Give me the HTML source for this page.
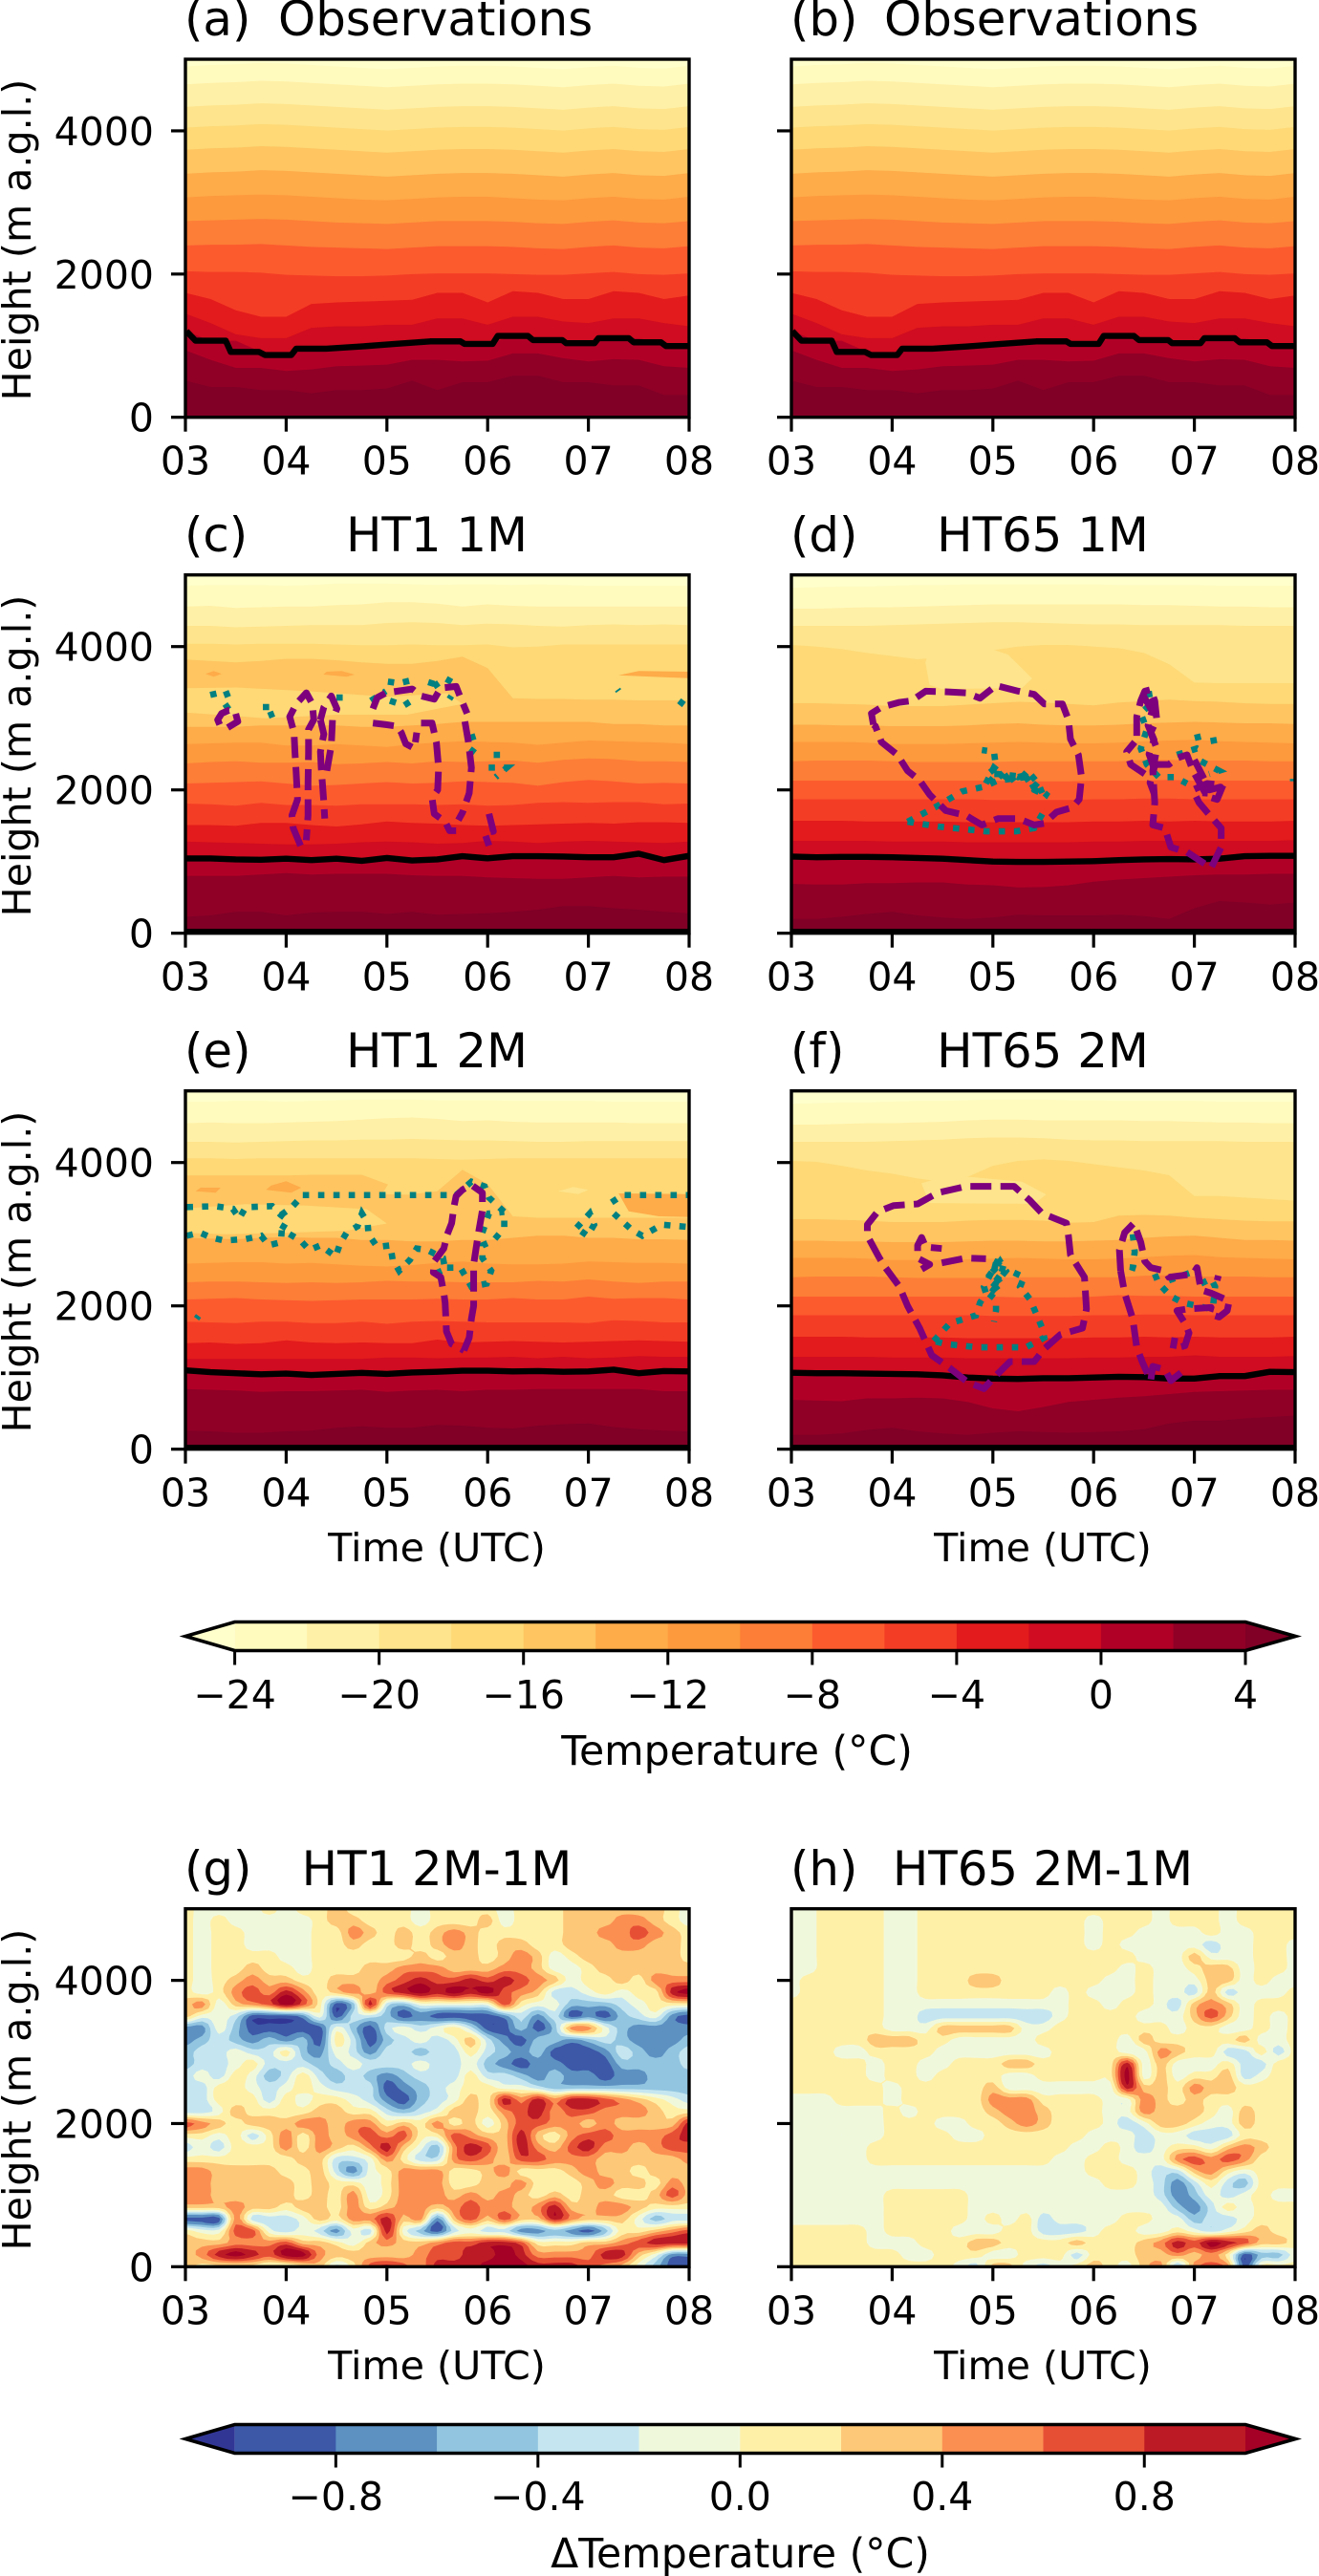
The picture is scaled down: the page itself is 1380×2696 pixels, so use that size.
<!DOCTYPE html>
<html lang="en">
<head>
<meta charset="utf-8">
<title>Temperature time-height panels</title>
<style>
html,body{margin:0;padding:0;background:#fff}
svg{display:block}
text{font-family:"DejaVu Sans","Liberation Sans",sans-serif;fill:#000}
.ttl{font-size:49.8px}
.lab{font-size:41.2px;text-anchor:middle}
.cbl{font-size:42.6px;text-anchor:middle}
.tk{font-size:41px}
</style>
</head>
<body>
<svg id="figure" xmlns="http://www.w3.org/2000/svg" width="1380" height="2696" viewBox="0 0 1380 2696">
<rect x="0" y="0" width="1380" height="2696" fill="#fff"/>
<g id="p-a">
<text class="ttl" x="193" y="37">(a)</text>
<text class="ttl" x="291" y="37">Observations</text>
<text class="lab" transform="translate(32,251) rotate(-90)">Height (m a.g.l.)</text>
</g>
<g id="p-b">
<text class="ttl" x="827" y="37">(b)</text>
<text class="ttl" x="925" y="37">Observations</text>
</g>
<g id="p-c">
<text class="ttl" x="193" y="577">(c)</text>
<text class="ttl" x="457" y="577" text-anchor="middle">HT1 1M</text>
<text class="lab" transform="translate(32,791) rotate(-90)">Height (m a.g.l.)</text>
</g>
<g id="p-d">
<text class="ttl" x="827" y="577">(d)</text>
<text class="ttl" x="1091" y="577" text-anchor="middle">HT65 1M</text>
</g>
<g id="p-e">
<text class="ttl" x="193" y="1117">(e)</text>
<text class="ttl" x="457" y="1117" text-anchor="middle">HT1 2M</text>
<text class="lab" transform="translate(32,1331) rotate(-90)">Height (m a.g.l.)</text>
<text class="lab" x="457" y="1634">Time (UTC)</text>
</g>
<g id="p-f">
<text class="ttl" x="827" y="1117">(f)</text>
<text class="ttl" x="1091" y="1117" text-anchor="middle">HT65 2M</text>
<text class="lab" x="1091" y="1634">Time (UTC)</text>
</g>
<g id="cb-t">
<text class="cbl" x="771" y="1847">Temperature (°C)</text>
</g>
<g id="p-g">
<text class="ttl" x="193" y="1973">(g)</text>
<text class="ttl" x="457" y="1973" text-anchor="middle">HT1 2M-1M</text>
<text class="lab" transform="translate(32,2187) rotate(-90)">Height (m a.g.l.)</text>
<text class="lab" x="457" y="2490">Time (UTC)</text>
</g>
<g id="p-h">
<text class="ttl" x="827" y="1973">(h)</text>
<text class="ttl" x="1091" y="1973" text-anchor="middle">HT65 2M-1M</text>
<text class="lab" x="1091" y="2490">Time (UTC)</text>
</g>
<g id="cb-d">
<text class="cbl" x="774.5" y="2687">ΔTemperature (°C)</text>
</g>
</svg>
<script>
/* ---------- axis categories and ticks ---------- */
const hourTicks = [3, 4, 5, 6, 7, 8];
const hourLabels = ['03', '04', '05', '06', '07', '08'];
const heightTicks = [0, 2000, 4000];
const tempTicks = [-24, -20, -16, -12, -8, -4, 0, 4];
const tempTickLabels = ['\u221224', '\u221220', '\u221216', '\u221212', '\u22128', '\u22124', '0', '4'];
const deltaTicks = [-0.8, -0.4, 0, 0.4, 0.8];
const deltaTickLabels = ['\u22120.8', '\u22120.4', '0.0', '0.4', '0.8'];

/* ---------- temperature levels (degC) and isotherm sample times (h UTC) ---------- */
const tempLevels = [-24, -22, -20, -18, -16, -14, -12, -10, -8, -6, -4, -2, 0, 2, 4];
const isoTimes = [3, 3.25, 3.5, 3.75, 4, 4.25, 4.5, 4.75, 5, 5.25, 5.5, 5.75, 6, 6.25, 6.5, 6.75, 7, 7.25, 7.5, 7.75, 8];
const tempColors = ['#ffffcc', '#fffbbf', '#fff0a7', '#fee48c', '#fed976', '#fec561', '#feab49', '#fd9a3d', '#fd7e37', '#fc5b2e', '#f43d25', '#e31b1c', '#cf0c21', '#b10026', '#900026', '#800026'];

/* isotherm heights (m) — one row per level in tempLevels, one column per isoTimes */
const isoObs = [
[4900,4920,4930,4950,4940,4920,4900,4880,4860,4880,4900,4910,4910,4900,4880,4860,4890,4910,4880,4870,4910],
[4650,4670,4680,4700,4690,4670,4650,4630,4610,4630,4650,4660,4660,4650,4630,4610,4640,4660,4630,4620,4660],
[4335,4355,4365,4385,4375,4355,4335,4315,4295,4315,4335,4345,4345,4335,4315,4295,4325,4345,4315,4305,4345],
[4045,4065,4075,4095,4085,4065,4045,4025,4005,4025,4045,4055,4055,4045,4025,4005,4035,4055,4025,4015,4055],
[3735,3755,3765,3785,3775,3755,3735,3715,3695,3715,3735,3745,3745,3735,3715,3695,3725,3745,3715,3705,3745],
[3400,3420,3430,3450,3440,3420,3400,3380,3360,3380,3400,3410,3410,3400,3380,3360,3390,3410,3380,3370,3410],
[3070,3090,3100,3110,3100,3080,3060,3040,3030,3050,3070,3080,3080,3060,3040,3030,3060,3080,3050,3040,3080],
[2740,2750,2760,2770,2760,2740,2720,2710,2700,2720,2740,2740,2740,2730,2710,2700,2730,2750,2720,2710,2740],
[2400,2410,2410,2420,2400,2380,2370,2360,2350,2370,2390,2390,2390,2380,2360,2350,2380,2400,2370,2360,2390],
[2040,2030,2030,2020,1990,1980,1970,1970,1980,2000,2010,2010,2010,2000,1990,1990,2010,2030,2000,1990,2010],
[1738,1650,1493,1404,1404,1582,1604,1615,1627,1640,1738,1738,1604,1760,1738,1650,1650,1760,1738,1650,1700],
[1448,1315,1158,1105,1105,1248,1270,1270,1292,1292,1381,1381,1292,1403,1403,1337,1315,1381,1381,1315,1270],
[1203,1069,1069,913,869,958,958,975,1025,1040,1060,1060,1025,1136,1100,1078,1034,1105,1100,1047,994],
[935,802,690,690,646,668,713,722,735,802,802,780,790,891,891,825,780,811,802,713,690],
[512,423,423,379,379,334,379,379,401,512,379,490,490,579,579,490,490,445,445,312,312]
];
const isoC = [
[4850,4860,4860,4860,4850,4860,4880,4880,4880,4870,4860,4870,4870,4860,4870,4860,4850,4850,4850,4850,4850],
[4560,4570,4540,4550,4560,4560,4580,4590,4620,4620,4600,4560,4590,4570,4560,4560,4560,4560,4560,4560,4560],
[4290,4290,4270,4280,4290,4300,4300,4300,4330,4340,4330,4300,4320,4310,4290,4280,4300,4310,4300,4310,4300],
[4040,4040,4030,4040,4040,4040,4030,4020,4020,4030,4020,4020,4030,3990,4000,4030,4030,4030,4030,4030,4030],
[3820,3800,3780,3800,3830,3830,3810,3780,3760,3760,3800,3860,3700,3280,3270,3270,3260,3260,3250,3250,3250],
[2880,2880,2880,2900,2900,2900,2900,2880,2880,2900,2920,2950,2950,2950,2950,2950,2950,2920,2920,2900,2900],
[2640,2650,2660,2660,2620,2620,2640,2620,2600,2640,2660,2680,2670,2660,2630,2660,2690,2680,2670,2660,2640],
[2370,2390,2400,2380,2380,2390,2360,2370,2390,2370,2400,2390,2400,2410,2380,2420,2440,2430,2400,2400,2390],
[2090,2100,2110,2120,2090,2060,2070,2090,2110,2090,2100,2120,2110,2100,2060,2110,2140,2120,2090,2100,2090],
[1810,1800,1780,1820,1790,1790,1780,1800,1800,1800,1790,1800,1780,1790,1820,1830,1820,1830,1830,1800,1810],
[1510,1510,1500,1540,1540,1510,1490,1520,1560,1540,1530,1510,1500,1510,1520,1530,1540,1530,1550,1550,1540],
[1280,1270,1260,1250,1240,1240,1250,1270,1280,1270,1250,1260,1290,1280,1260,1280,1290,1280,1270,1260,1280],
[1044,1044,1030,1025,1040,1020,1040,1010,1050,1015,1030,1075,1045,1075,1075,1070,1060,1060,1110,1020,1080],
[800,800,800,820,840,820,830,830,830,810,800,800,780,770,760,760,780,800,780,790,790],
[230,250,300,300,250,290,300,300,270,300,260,270,280,300,330,380,380,350,330,300,280]
];
const isoD = [
[4820,4830,4840,4840,4850,4860,4860,4870,4870,4870,4870,4870,4870,4860,4860,4860,4860,4850,4850,4850,4850],
[4530,4530,4540,4550,4550,4560,4570,4580,4590,4590,4590,4590,4590,4590,4580,4580,4570,4560,4560,4550,4550],
[4290,4290,4290,4290,4300,4310,4320,4330,4340,4340,4330,4320,4310,4310,4300,4300,4300,4300,4290,4290,4290],
[4022,4000,3964,3911,3867,3822,3850,3900,3950,4000,4022,4022,4000,3978,3911,3755,3497,3489,3489,3489,3489],
[3210,3210,3200,3190,3170,3170,3170,3190,3210,3230,3220,3200,3180,3220,3240,3260,3240,3230,3210,3200,3200],
[2910,2910,2900,2900,2890,2890,2890,2900,2920,2930,2910,2900,2900,2910,2930,2940,2950,2940,2930,2930,2920],
[2670,2670,2670,2660,2640,2640,2640,2650,2660,2670,2660,2650,2650,2660,2680,2690,2700,2680,2670,2660,2650],
[2400,2410,2410,2410,2400,2390,2390,2390,2390,2400,2400,2400,2400,2400,2420,2420,2410,2410,2410,2400,2400],
[2130,2130,2130,2130,2130,2130,2130,2130,2130,2120,2120,2120,2130,2130,2130,2140,2130,2130,2130,2130,2130],
[1870,1870,1870,1870,1870,1870,1870,1870,1860,1860,1860,1860,1870,1870,1880,1880,1870,1870,1870,1870,1870],
[1570,1570,1570,1560,1560,1560,1560,1550,1550,1550,1550,1550,1560,1560,1570,1560,1570,1560,1560,1560,1570],
[1290,1290,1290,1290,1280,1280,1280,1270,1270,1270,1270,1270,1280,1280,1290,1290,1290,1290,1290,1290,1300],
[1070,1060,1065,1065,1060,1050,1040,1020,1000,995,995,1000,1005,1020,1030,1035,1030,1040,1075,1080,1080],
[689,680,680,700,700,710,710,680,670,640,644,670,720,750,770,790,810,820,820,830,830],
[200,200,230,270,300,250,220,200,220,260,250,250,250,260,240,200,350,450,430,400,430]
];
const isoE = [
[4850,4850,4860,4860,4850,4860,4870,4880,4880,4880,4870,4870,4870,4860,4860,4860,4860,4850,4850,4850,4850],
[4550,4560,4550,4550,4560,4570,4580,4600,4620,4630,4610,4580,4590,4570,4560,4560,4560,4560,4550,4550,4550],
[4290,4290,4280,4290,4300,4310,4310,4320,4320,4330,4320,4310,4310,4300,4290,4290,4300,4300,4300,4300,4300],
[4060,4060,4050,4060,4060,4060,4060,4060,4060,4060,4050,4040,4050,4060,4060,4060,4060,4060,4060,4060,4060],
[3820,3820,3820,3820,3820,3830,3830,3830,3700,3560,3600,3900,3700,3250,3230,3230,3230,3230,3230,3230,3230],
[2950,2940,2930,2950,2960,2950,2950,2920,2920,2900,2900,2920,2920,2950,2980,2980,2950,2950,2930,2930,2920],
[2590,2600,2610,2610,2590,2600,2580,2560,2550,2570,2600,2620,2590,2580,2580,2590,2620,2610,2600,2600,2590],
[2330,2340,2340,2330,2320,2330,2320,2330,2350,2340,2340,2330,2330,2330,2350,2340,2370,2340,2320,2340,2340],
[2090,2100,2110,2090,2080,2070,2080,2090,2090,2090,2100,2090,2090,2110,2090,2090,2130,2100,2110,2110,2090],
[1780,1770,1760,1780,1780,1760,1760,1780,1750,1780,1790,1780,1770,1770,1770,1770,1760,1800,1790,1770,1770],
[1480,1490,1470,1480,1520,1490,1480,1490,1480,1480,1530,1490,1500,1510,1500,1490,1500,1510,1520,1510,1500],
[1260,1260,1260,1260,1260,1260,1260,1260,1280,1280,1270,1280,1280,1290,1270,1290,1270,1280,1300,1290,1290],
[1100,1075,1060,1045,1055,1035,1050,1065,1050,1070,1080,1095,1095,1085,1090,1080,1085,1110,1060,1090,1085],
[840,830,820,800,810,810,820,830,800,820,830,810,830,830,840,840,840,840,840,810,810],
[260,250,230,230,250,260,300,320,300,300,340,330,300,290,330,350,360,310,280,260,250]
];
const isoF = [
[4820,4830,4840,4840,4850,4860,4860,4870,4880,4880,4880,4870,4870,4860,4860,4860,4860,4850,4850,4850,4850],
[4530,4530,4540,4550,4550,4560,4570,4590,4600,4600,4590,4590,4590,4590,4580,4580,4570,4560,4560,4550,4550],
[4290,4290,4290,4290,4300,4310,4320,4340,4350,4350,4340,4320,4310,4310,4300,4300,4300,4300,4290,4290,4290],
[4022,4009,3955,3889,3844,3778,3733,3800,3955,4022,4044,4022,3978,3933,3889,3822,3533,3533,3511,3489,3467],
[3210,3210,3200,3190,3170,3170,3170,3190,3200,3200,3190,3160,3170,3260,3270,3260,3230,3210,3190,3180,3180],
[2910,2910,2900,2900,2890,2890,2890,2900,2910,2910,2900,2900,2910,2920,2950,2970,2980,2950,2920,2920,2910],
[2670,2670,2670,2660,2640,2640,2640,2650,2660,2670,2660,2650,2650,2660,2680,2700,2710,2680,2670,2660,2650],
[2400,2410,2410,2410,2400,2390,2390,2390,2390,2400,2400,2400,2400,2400,2420,2430,2410,2410,2410,2400,2400],
[2130,2130,2130,2130,2130,2130,2130,2130,2130,2120,2120,2120,2130,2150,2140,2140,2130,2130,2130,2130,2130],
[1870,1870,1870,1870,1870,1870,1870,1870,1860,1860,1860,1860,1870,1870,1880,1880,1870,1870,1870,1870,1870],
[1570,1570,1570,1560,1560,1560,1560,1550,1550,1550,1550,1550,1560,1560,1570,1560,1570,1560,1560,1560,1570],
[1290,1290,1290,1290,1280,1280,1280,1270,1270,1270,1270,1270,1280,1280,1290,1290,1310,1290,1290,1290,1300],
[1067,1060,1060,1055,1050,1045,1030,1000,985,980,990,990,1000,1010,1005,985,985,1020,1020,1080,1075],
[689,680,670,710,710,720,710,660,570,530,590,660,690,720,740,770,800,810,820,830,830],
[200,200,220,270,300,250,220,200,230,250,240,230,240,250,280,360,400,400,430,450,470]
];

/* stepped freezing level in the observations (h UTC, m) */
const freezeObsTimes = [3.01,3.1,3.4,3.45,3.73,3.79,4.05,4.1,4.4,4.75,5.08,5.43,5.73,5.77,6.05,6.1,6.4,6.45,6.74,6.78,7.06,7.1,7.4,7.45,7.72,7.77,8];
const freezeObsHeights = [1203,1069,1069,913,913,869,869,958,958,989,1025,1060,1060,1025,1025,1136,1136,1078,1078,1034,1034,1105,1105,1047,1047,994,994];
const groundContour = [18, 18];
const freezeLevelRow = 12;

/* isolated temperature pockets: level index, then [time, height] outline */
const pocketsC = [
 {level:3, outline:[[3,3420],[3.5,3430],[4.2,3380],[5,3300],[5.6,3350],[5.75,3200],[5.2,3050],[4.5,3050],[3.8,3000],[3,3080]]},
 {level:5, outline:[[3.2,3620],[3.28,3580],[3.36,3620],[3.28,3660]]},
 {level:5, outline:[[4.37,3610],[4.6,3580],[4.68,3610],[4.55,3660],[4.4,3650]]},
 {level:5, outline:[[7.3,3600],[7.8,3570],[8,3560],[8,3650],[7.5,3660]]}
];
const pocketsD = [
 {level:2, outline:[[4.33,3778],[4.37,3467],[4.49,3408],[5.29,3422],[5.39,3555],[5.15,3889],[5.01,3955],[4.37,3955]]}
];
const pocketsE = [
 {level:3, outline:[[3,3360],[3.6,3420],[4.2,3400],[4.8,3350],[5,3150],[4.6,3050],[4,3020],[3.4,3000],[3,3020]]},
 {level:5, outline:[[3.1,3600],[3.3,3580],[3.35,3650],[3.15,3650]]},
 {level:5, outline:[[3.8,3620],[4.05,3580],[4.15,3650],[4,3740],[3.85,3680]]},
 {level:3, outline:[[4.95,3560],[5.05,3780],[5.2,3700],[5.28,3550]]},
 {level:2, outline:[[6.7,3600],[6.9,3560],[7.0,3620],[6.85,3660]]},
 {level:5, outline:[[7.3,3570],[8,3560],[8,3240],[7.7,3250],[7.4,3320]]}
];
const pocketsF = [
 {level:2, outline:[[4.29,3711],[4.37,3435],[5.41,3422],[5.53,3555],[5.29,3733],[4.77,3800],[4.45,3778]]}
];

/* cloud contours: purple dashed, teal dotted — [time (h UTC), height (m)] */
const purpleC = [
 [[3.34,2911],[3.32,2978],[3.36,3067],[3.43,3111],[3.49,3111],[3.52,2955],[3.42,2870]],
 [[4.143,1222],[4.07,1467],[4.057,1644],[4.113,1867],[4.1,2222],[4.087,2533],[4.078,2800],[4.035,3022],[4.1,3200],[4.2,3355],[4.26,3200],[4.274,2978],[4.222,2844],[4.222,2533],[4.217,2089],[4.217,1644],[4.2,1298]],
 [[4.34,2978],[4.374,2778],[4.34,2533],[4.348,2311],[4.36,2089],[4.374,1822],[4.383,1600]],
 [[4.404,2267],[4.448,2622],[4.46,2978],[4.504,3133],[4.448,3311],[4.374,3155],[4.34,2978]],
 [[4.861,3133],[4.904,3289],[4.991,3355],[5.252,3408],[5.339,3311],[5.47,3266],[5.535,3422],[5.687,3444],[5.73,3289],[5.796,3067]],
 [[5.774,2955],[5.809,2667],[5.839,2311],[5.817,1955],[5.752,1689],[5.709,1578]],
 [[4.861,2933],[4.991,2911],[5.1,2889],[5.143,2800],[5.187,2644],[5.274,2578],[5.296,2800]],
 [[5.339,2933],[5.448,2933],[5.491,2667],[5.513,2311],[5.504,2000],[5.448,1889],[5.47,1667],[5.578,1556],[5.622,1431],[5.687,1431]],
 [[6.013,1667],[6.057,1422],[5.97,1400],[6.013,1222]]
];
const tealC = [
 [[3.27,3378],[3.30,3200]],
 [[3.40,3378],[3.45,3200],[3.36,3111]],
 [[3.80,3200],[3.80,3022],[3.88,3067]],
 [[4.53,3333],[4.53,3133]],
 [[4.84,3244],[4.99,3378]],
 [[5.01,3511],[5.12,3489],[5.25,3533]],
 [[5.03,3244],[5.17,3178],[5.27,3267]],
 [[5.45,3533],[5.42,3400],[5.58,3556],[5.69,3467]],
 [[5.62,3267],[5.64,3311]],
 [[5.84,2778],[5.88,2600],[5.82,2489]],
 [[6.06,2489],[6.19,2489]],
 [[6.01,2311],[6.19,2311],[6.08,2178]],
 [[7.29,3400],[7.3,3380]],
 [[7.9,3244],[7.98,3155]]
];
const purpleD = [
 [[3.814,2911],[3.794,3067],[3.894,3155],[4.073,3222],[4.193,3244],[4.333,3378],[4.532,3369],[4.732,3355],[4.872,3280],[5.031,3457],[5.251,3378],[5.41,3333],[5.51,3200],[5.69,3200],[5.75,2978],[5.77,2711],[5.849,2489],[5.88,2178],[5.857,1867],[5.79,1755],[5.63,1689],[5.51,1533],[5.41,1511],[5.251,1600],[5.051,1600],[4.891,1511],[4.732,1644],[4.532,1711],[4.373,1933],[4.273,2133],[4.153,2267],[4.053,2489],[3.894,2667],[3.834,2889],[3.814,2911]],
 [[6.428,2755],[6.428,3022],[6.468,3244],[6.508,3378],[6.567,3400],[6.607,3244],[6.627,2978],[6.567,2800],[6.627,2578],[6.587,2267],[6.607,1822],[6.587,1511],[6.707,1467],[6.767,1200],[6.927,1133],[7.046,1022],[7.166,911],[7.266,1200],[7.266,1467],[7.126,1689],[7.046,1822],[6.986,2000],[7.126,2089],[7.285,2067],[7.226,1867],[7.126,1911],[6.986,2267],[6.927,2489],[6.827,2444],[6.747,2355],[6.627,2355],[6.508,2222],[6.368,2355],[6.328,2533],[6.408,2667]],
 [[6.5,3300],[6.58,3100],[6.54,2900],[6.6,2700],[6.55,2500],[6.6,2300],[6.56,2100],[6.6,1950]],
 [[6.53,3200],[6.6,3250],[6.6,2950]],
 [[7.0,2420],[7.08,2200],[7.15,2000],[7.26,2040],[7.18,1950],[7.08,1960]]
];
const tealD = [
 [[4.153,1556],[4.453,1778],[4.692,1978],[4.911,2044],[5.051,2133],[5.33,2178],[5.55,1911],[5.41,2000],[5.33,2178],[5.051,2222],[4.951,2222],[5.031,2311],[5.011,2533],[4.891,2556]],
 [[4.93,2089],[5.01,2311],[5.13,2178],[5.17,2222],[5.25,2178],[5.37,2222],[5.45,2089],[5.49,1956]],
 [[4.96,2100],[5.05,2250],[5.15,2110],[5.28,2250],[5.36,2150],[5.42,2000]],
 [[4.153,1556],[4.453,1489],[4.931,1422],[5.231,1422],[5.41,1467],[5.51,1711]],
 [[6.547,3378],[6.567,3200],[6.468,3067],[6.528,2844],[6.468,2578],[6.528,2355],[6.647,2178],[6.807,2178],[6.927,2089]],
 [[6.827,2489],[7.026,2578],[7.086,2533]],
 [[7.026,2778],[7.046,2667]],
 [[7.186,2733],[7.206,2578]],
 [[7.066,2400],[7.246,2267],[7.146,2222]],
 [[7.98,2155],[7.98,2120]]
];
const purpleE = [
 [[5.765,1378],[5.817,1556],[5.839,1822],[5.861,2000],[5.861,2578],[5.904,2978],[5.948,3333],[5.948,3578],[5.839,3689],[5.752,3622],[5.687,3533],[5.665,3378],[5.643,3155],[5.6,3000],[5.565,2800],[5.47,2622],[5.461,2467],[5.535,2400],[5.565,2178],[5.578,2044],[5.591,1644],[5.643,1467],[5.765,1378]]
];
const tealE = [
 [[4.165,3546],[4.77,3546],[5.687,3546],[5.839,3733],[5.97,3667],[6.013,3511],[6.165,3311],[6.165,3089],[6.057,2911],[5.948,2844],[5.948,2667],[6.035,2489],[5.991,2311],[5.839,2267],[5.73,2533],[5.557,2533]],
 [[3.013,3378],[3.296,3391],[3.47,3355],[3.535,3222],[3.6,3378],[3.861,3391],[3.948,3267],[4.013,3200],[3.957,3067],[4.035,3000],[4.143,2911],[4.23,2778],[4.339,2844],[4.491,2689],[4.535,2867],[4.6,3022],[4.709,3111],[4.752,3289],[4.809,3155],[4.817,3000],[4.904,2822],[5.035,2844],[5.057,2644],[5.122,2489],[5.23,2644],[5.296,2800],[5.404,2778],[5.557,2667],[5.578,2511],[5.47,2444]],
 [[3.013,2978],[3.143,3022],[3.252,2956],[3.383,2911],[3.6,2933],[3.752,2978],[3.826,2844],[3.948,2889],[3.957,3067]],
 [[3.948,3267],[4.057,3378],[4.165,3546]],
 [[5.948,3022],[6.013,3289],[6.165,3311]],
 [[6.883,3089],[7.013,3289],[7.057,3133],[6.991,2978],[6.883,3089]],
 [[7.23,3444],[7.339,3546],[8,3546]],
 [[7.252,3289],[7.426,3067],[7.535,2978],[7.73,3133],[8,3100]],
 [[3.11,1822],[3.13,1860]]
];
const purpleF = [
 [[3.874,2667],[3.754,2978],[3.754,3133],[3.854,3311],[4.014,3400],[4.253,3422],[4.453,3578],[4.732,3667],[5.211,3667],[5.37,3467],[5.49,3289],[5.73,3155],[5.75,2978],[5.77,2711],[5.909,2400],[5.929,1956],[5.889,1689],[5.67,1600],[5.51,1400],[5.41,1222],[5.171,1222],[5.011,1000],[4.911,844],[4.752,933],[4.572,1133],[4.393,1311],[4.273,1689],[4.153,2000],[4.073,2267],[3.934,2533],[3.874,2667]],
 [[4.293,2511],[4.373,2578],[4.253,2667],[4.253,2844],[4.293,2955],[4.333,2822],[4.492,2800]],
 [[4.492,2600],[4.732,2667],[4.931,2658]],
 [[6.268,2489],[6.256,2778],[6.308,3022],[6.4,3155],[6.468,2889],[6.508,2622],[6.567,2533],[6.707,2489],[6.747,2400],[6.986,2444],[7.026,2533],[7.066,2222],[7.166,2178],[7.346,2067],[7.326,1933],[7.246,1844],[7.146,1889],[7.166,1978],[6.927,1956],[6.827,1933],[6.907,1756],[6.947,1622],[6.907,1444],[6.787,1400],[6.807,1556]],
 [[6.867,1067],[6.767,956],[6.707,1111],[6.587,1156],[6.567,956],[6.488,1200],[6.428,1422],[6.388,1822],[6.308,2178],[6.268,2489]],
 [[7.238,2422],[7.226,2355]]
];
const tealF = [
 [[4.413,1511],[4.572,1756],[4.832,1867],[4.872,2044],[4.931,2178],[4.911,2267],[5.051,2644],[5.051,2533],[5.171,2489],[5.31,2400],[5.27,2267],[5.37,2089],[5.49,1689],[5.51,1556],[5.33,1422],[4.852,1422],[4.532,1467],[4.413,1511]],
 [[4.951,2400],[5.071,2622],[5.13,2489],[5.051,2355],[4.951,2178],[5.031,2089],[5.031,1933],[5.011,1778]],
 [[4.991,2533],[5.09,2400],[4.971,2267],[5.051,2178]],
 [[5.03,2600],[5.0,2430],[5.1,2330],[4.98,2200]],
 [[6.388,3000],[6.408,2755],[6.388,2533],[6.488,2489]],
 [[6.607,2444],[6.647,2311],[6.767,2133],[6.887,2044],[7.166,1956]],
 [[6.747,2355],[6.966,2467]],
 [[7.066,2311],[7.166,2378],[7.206,2267],[7.186,2000]]
];

/* temperature differences in tenths of a degC: rows top (5000 m) to bottom (0 m), columns 03 to 08 UTC */
const diffThresholds = [-10, -8, -6, -4, -2, 0, 2, 4, 6, 8, 10];
const diffColors = ['#313695', '#3c58a7', '#5c91c2', '#92c5e0', '#c5e6f0', '#f0f8dc', '#fff0a8', '#fdc877', '#fb8f52', '#e74f35', '#bc1a25', '#a50026'];
const diffG = [
[1,-1,-1,-1,-1,1,-1,1,1,3,1,1,1,1,-1,1,1,1,1,-1,1,1,1,3,3,3,3,3,3,1,-1],
[1,-1,1,-1,-1,-1,-1,-1,1,3,3,1,1,1,-1,1,1,1,3,-1,1,1,1,3,3,3,5,5,3,1,-1],
[1,-1,1,1,-1,-1,-1,-1,1,1,5,3,1,3,1,3,5,3,1,1,1,1,1,3,3,5,5,7,5,3,1],
[1,-1,1,1,-1,-1,-1,-1,1,1,3,1,1,3,1,3,5,3,1,3,3,1,1,3,3,3,5,5,3,3,1],
[1,-1,1,1,1,1,-1,-1,1,1,1,1,1,1,3,1,3,3,1,3,5,3,-1,1,3,3,3,3,3,3,1],
[1,-1,1,1,3,1,1,-1,1,1,1,3,3,5,5,5,3,3,3,5,5,3,-1,-1,1,3,3,3,3,3,3],
[1,-1,1,3,5,3,3,1,1,3,3,3,5,7,9,7,7,9,7,9,7,5,3,-1,1,1,3,1,5,5,5],
[1,-1,1,5,7,5,9,5,1,3,5,3,7,9,11,9,11,9,11,7,5,3,-3,-3,-1,1,-1,1,1,9,11],
[3,5,-1,3,5,7,11,7,1,-9,-5,9,-3,-5,-1,-1,-1,-1,-1,7,1,-1,-1,-5,-5,-5,-3,-1,1,1,1],
[3,-1,-1,-3,-9,-9,-9,-7,-1,-9,-3,-3,-5,-9,-7,-9,-9,-9,-9,-7,-3,-7,-3,-9,-7,-9,-5,-3,-1,-7,-9],
[-7,-7,-1,-5,-9,-9,-9,-9,-9,-1,-5,-9,-3,-1,-3,-1,1,-3,-9,-9,-5,-9,-5,5,5,-1,-5,-7,-7,-7,-7],
[-7,-5,-3,-5,-7,-5,-7,-5,-9,1,-3,-9,-5,-3,-1,-3,-1,3,-3,-7,-9,-5,-5,-7,-5,-3,-5,-7,-7,-7,-5],
[-5,-3,-3,-1,-3,-3,1,-5,-7,-1,-3,-7,-3,-3,-5,-3,-3,1,-3,-5,-7,-5,-9,-9,-9,-7,-3,-5,-7,-5,-3],
[-5,-3,-3,-1,1,-3,-3,-3,-5,-3,-1,-3,-3,-3,-1,-3,-3,-1,-5,-7,-9,-7,-7,-9,-9,-9,-5,-5,-5,-5,-3],
[-3,-1,-3,1,-1,-5,-3,1,-3,-5,-3,-5,-7,-5,-3,-3,-3,1,-3,-3,-5,-7,-5,-7,-7,-9,-7,-7,-5,-5,-5],
[-3,-3,1,1,-1,-3,-1,1,-1,-3,-3,-3,-9,-7,-5,-3,-1,1,1,-1,-1,-3,-5,-5,-5,-5,-5,-5,-5,-5,-5],
[-3,-3,1,1,1,-3,1,-1,1,1,-1,-3,-7,-9,-5,-3,-1,3,1,9,5,9,5,9,9,7,5,3,1,-1,-3],
[-3,-3,-1,3,1,1,1,1,3,3,1,1,-3,-5,-3,-1,3,3,1,5,7,9,5,7,7,5,5,5,3,1,1],
[7,5,3,1,3,3,3,5,5,3,5,5,1,3,1,5,1,3,-1,3,7,7,5,5,3,5,3,3,3,3,9],
[1,1,-1,1,-3,1,5,1,5,3,5,7,5,7,1,1,7,5,3,3,9,3,1,5,7,7,5,5,5,7,9],
[-3,-1,-3,1,1,1,5,1,5,3,1,5,9,3,-1,-5,5,9,7,3,9,5,3,7,9,5,5,3,5,7,7],
[1,1,1,1,1,1,1,3,3,-3,-3,-1,5,1,-3,-3,5,7,5,3,7,7,5,5,5,3,3,3,3,3,5],
[5,5,3,3,3,3,1,1,3,-3,-7,-1,1,5,5,5,1,1,3,5,1,1,1,3,5,3,3,1,3,3,3],
[5,5,3,3,3,3,3,1,3,1,1,-1,1,5,5,5,1,1,3,3,5,1,1,1,3,5,3,3,1,5,3],
[5,5,3,3,3,3,3,1,3,1,5,-1,1,5,5,5,3,5,3,5,3,1,3,1,3,3,1,1,3,7,3],
[3,3,3,5,3,3,1,3,3,1,5,1,3,5,5,3,5,7,5,5,3,5,9,3,3,5,5,3,1,1,1],
[-9,-9,-9,5,-3,-3,-3,-1,3,1,5,5,9,3,5,-7,3,7,3,7,3,3,9,5,3,3,3,-1,-5,-3,-3],
[1,-1,-1,7,7,-1,-3,-1,-3,-7,-1,-3,9,-1,-5,-9,-3,-1,-3,-3,-7,-7,-5,-7,-9,-5,1,1,3,5,7],
[3,3,3,5,5,5,7,3,3,1,-1,3,5,3,3,5,7,7,9,9,7,1,1,1,3,3,5,7,9,9,9],
[3,5,9,11,9,7,11,11,5,3,3,3,3,3,5,7,7,9,9,11,9,5,5,5,5,9,9,3,-1,-7,-7],
[3,1,1,1,1,-1,-1,1,3,-3,1,7,9,7,5,9,9,9,11,11,11,9,9,9,7,5,3,-1,-5,-9,-9]
];
const diffH = [
[-1,-1,1,1,1,1,-1,-1,1,1,1,1,1,1,1,1,1,1,1,1,1,1,-1,1,1,1,-1,1,1,1,1],
[-1,-1,1,1,1,1,-1,-1,1,1,1,1,1,1,1,1,1,1,-1,1,1,1,-1,1,1,1,-1,1,1,1,1],
[-1,-1,1,1,1,1,-1,-1,1,1,1,1,1,1,1,1,1,1,-1,1,1,-1,-1,-1,-1,1,-1,-1,1,1,1],
[-1,-1,1,1,1,1,-1,-1,1,1,1,1,1,1,1,1,1,1,-1,1,-1,-1,-1,-1,-1,-3,-1,-1,1,1,-1],
[-1,-1,1,1,1,1,-1,-1,1,1,1,1,1,1,1,1,1,1,1,1,1,-1,-1,-1,3,-1,-1,-1,1,1,-1],
[-1,-1,1,1,1,1,-1,-1,1,1,1,1,1,1,1,1,1,1,1,1,-1,1,-1,-1,1,3,3,-1,1,1,-1],
[-1,1,1,1,1,1,-1,-1,1,1,1,3,3,1,1,1,1,1,1,-1,-1,1,-1,-1,-1,3,3,-1,1,-1,-1],
[-1,1,1,1,1,1,-1,-1,1,1,1,1,1,1,1,1,-1,1,-1,-1,-1,1,-1,-1,-3,3,-3,-1,-1,-1,1],
[1,1,1,1,1,1,-1,-1,-1,-1,-1,-1,-1,-1,-1,-1,-1,1,1,-1,1,1,-1,-3,3,5,3,-1,1,1,1],
[1,1,1,1,1,1,-1,-1,-3,-3,-3,-3,-3,-3,-3,-3,-1,1,1,1,1,-1,-1,-1,3,7,3,-1,1,-1,1],
[1,1,1,1,1,1,-1,-1,-1,3,3,3,3,3,-1,-1,1,1,1,1,1,1,1,-1,1,1,-1,-1,1,-1,1],
[1,1,1,1,1,3,3,3,1,1,-1,-1,-1,-1,-1,1,1,1,1,1,-1,3,1,1,1,1,1,3,-1,-1,1],
[1,1,1,-1,-1,1,1,1,1,-1,-1,-1,-1,-1,-1,-1,1,1,1,1,-1,-1,5,3,1,1,-3,-3,1,-3,1],
[1,1,1,1,1,-1,1,1,-1,-1,1,1,1,3,3,1,1,1,1,1,9,-1,3,-1,-1,-1,1,-3,-3,1,1],
[1,1,1,1,1,-1,1,1,-1,1,1,1,1,-1,-1,1,1,1,1,1,11,-1,3,-1,1,1,3,-3,-1,1,1],
[1,1,1,1,1,1,-1,1,1,1,1,1,3,-1,-1,-1,-1,-1,-1,-1,9,3,3,1,5,3,3,1,1,1,1],
[-1,-1,-1,1,1,1,-1,1,1,1,1,1,5,5,5,1,1,1,1,-1,-1,5,3,1,3,1,1,1,1,1,1],
[-1,-1,-1,-1,-1,-1,1,-1,1,1,1,1,3,5,5,3,1,1,1,-1,-1,5,3,3,3,1,-1,3,1,1,1],
[-1,-1,-1,-1,-1,-1,1,1,1,-1,-1,1,1,3,5,3,1,1,1,-1,-3,-1,3,3,1,-1,-1,3,1,1,1],
[-1,-1,-1,-1,-1,-1,1,1,1,1,-1,-1,1,1,1,1,1,1,-1,-1,-1,-3,-1,-1,-3,-3,-3,1,1,1,1],
[-1,-1,-1,-1,-1,1,1,1,1,1,1,1,1,1,1,1,1,-1,-1,1,-1,-3,-1,1,1,-1,3,5,3,1,1],
[-1,-1,-1,-1,-1,1,1,1,1,1,1,1,1,1,1,1,-1,-1,1,1,-1,-1,-1,5,7,5,7,5,1,1,1],
[-1,-1,-1,-1,-1,-1,-1,-1,-1,-1,-1,-1,-1,-1,-1,-1,-1,-1,1,1,1,-1,-3,-3,3,5,1,-1,1,1,1],
[-1,-1,-1,-1,-1,-1,-1,-1,-1,-1,-1,-1,-1,-1,-1,-1,-1,-1,-1,1,1,-1,-3,-7,-3,1,-3,-5,1,1,1],
[-1,-1,-1,-1,-1,-1,1,1,1,1,1,-1,-1,-1,-1,-1,-1,-1,-1,-1,-1,-1,-3,-7,-5,-1,-3,-1,1,-1,-1],
[-1,-1,-1,-1,-1,-1,1,1,1,1,1,-1,-1,-1,-1,-1,-1,-1,-1,-1,-1,-1,-1,-5,-7,-3,1,-1,1,1,1],
[-1,-1,-1,-1,-1,-1,1,1,1,1,1,-1,1,-1,1,-3,-1,-1,-1,-1,1,1,-1,-1,-5,-3,-3,-1,1,1,1],
[1,1,1,1,1,-1,1,1,1,1,-1,-1,-1,1,1,-3,-3,-3,-1,1,1,-1,-1,1,-1,-3,-1,1,3,1,1],
[1,1,1,1,1,-1,-1,-1,1,1,1,3,3,1,1,1,1,3,1,1,1,3,5,9,7,11,9,7,3,3,1],
[1,1,1,1,1,1,1,-1,-1,1,1,1,-1,-1,1,1,1,-3,1,1,1,3,3,5,3,5,1,-9,-5,-5,-1],
[1,1,1,1,1,1,1,1,1,1,-1,-3,3,3,-1,-3,-1,1,3,1,-1,3,5,-5,5,7,5,-9,1,1,1]
];

/* ---------- layout ---------- */
const SVGNS = 'http://www.w3.org/2000/svg';
const colLeft = {x0: 194, x1: 721};
const colRight = {x0: 828, x1: 1355};
function frame(col, y0, y1, id, labelled) {
  return {x0: col.x0, x1: col.x1, y0: y0, y1: y1, id: id, labelled: labelled};
}
const pA = frame(colLeft, 62, 436.7, 'a', true);
const pB = frame(colRight, 62, 436.7, 'b', false);
const pC = frame(colLeft, 601.7, 976.7, 'c', true);
const pD = frame(colRight, 601.7, 976.7, 'd', false);
const pE = frame(colLeft, 1141.7, 1516.7, 'e', true);
const pF = frame(colRight, 1141.7, 1516.7, 'f', false);
const pG = frame(colLeft, 1997.7, 2372.3, 'g', true);
const pH = frame(colRight, 1997.7, 2372.3, 'h', false);

function xOf(p, t) { return p.x0 + (t - 3) / 5 * (p.x1 - p.x0); }
function yOf(p, h) { return p.y1 - h / 5000 * (p.y1 - p.y0); }
function make(tag, attrs, parent) {
  const el = document.createElementNS(SVGNS, tag);
  for (const k in attrs) el.setAttribute(k, attrs[k]);
  parent.appendChild(el);
  return el;
}
function pathFrom(p, pts) {
  return pts.map(function (q, i) {
    return (i ? 'L' : 'M') + xOf(p, q[0]).toFixed(2) + ' ' + yOf(p, q[1]).toFixed(2);
  }).join('');
}
const defs = make('defs', {}, document.getElementById('figure'));
function plotLayer(p) {
  const clip = make('clipPath', {id: 'clip-' + p.id}, defs);
  make('rect', {x: p.x0, y: p.y0, width: p.x1 - p.x0, height: p.y1 - p.y0}, clip);
  const g = make('g', {'clip-path': 'url(#clip-' + p.id + ')'}, document.getElementById('p-' + p.id));
  
  
  return g;
}

/* ---------- temperature bands from isotherm rows ---------- */
function drawIsotherms(p, layer, rows, pockets) {
  const bg = make('rect', {x: p.x0, y: p.y0, width: p.x1 - p.x0, height: p.y1 - p.y0, fill: tempColors[0]}, layer);
  
  
  rows.forEach(function (row, i) {
    const pts = row.map(function (h, j) { return [isoTimes[j], h]; });
    pts.push([8, 0]);
    pts.push([3, 0]);
    const band = make('path', {d: pathFrom(p, pts) + 'Z', fill: tempColors[i + 1]}, layer);
    
    
  });
  pockets.forEach(function (pk) {
    const shape = make('path', {d: pathFrom(p, pk.outline) + 'Z', fill: tempColors[pk.level + 1]}, layer);
    
    
  });
}
function drawFreezing(p, layer, pts) {
  const line = make('path', {d: pathFrom(p, pts), fill: 'none', stroke: '#000', 'stroke-width': 6.4, 'stroke-linejoin': 'round'}, layer);
  
  
}
function drawCloud(p, layer, purple, teal) {
  teal.forEach(function (seg) {
    const line = make('path', {d: pathFrom(p, seg), fill: 'none', stroke: '#008080', 'stroke-width': 6.6, 'stroke-dasharray': '6.6 9.4'}, layer);
    
    
  });
  purple.forEach(function (seg) {
    const line = make('path', {d: pathFrom(p, seg), fill: 'none', stroke: '#7d007d', 'stroke-width': 7, 'stroke-dasharray': '22 9.5', 'stroke-linejoin': 'round'}, layer);
    
    
  });
}

/* ---------- filled contours from a grid ---------- */
function clipCell(corners, level) {
  const out = [];
  for (let i = 0; i < corners.length; i++) {
    const a = corners[i], b = corners[(i + 1) % corners.length];
    if (a[2] >= level) out.push(a);
    if ((a[2] >= level) !== (b[2] >= level)) {
      const f = (level - a[2]) / (b[2] - a[2]);
      out.push([a[0] + f * (b[0] - a[0]), a[1] + f * (b[1] - a[1]), level]);
    }
  }
  return out;
}
/* rounds contour corners by resampling the grid with a cubic kernel between its values */
function cubicAt(v0, v1, v2, v3, f) {
  return v1 + 0.5 * f * (v2 - v0 + f * (2 * v0 - 5 * v1 + 4 * v2 - v3 + f * (3 * (v1 - v2) + v3 - v0)));
}
function resample(grid, factor) {
  const nr = grid.length - 1, nc = grid[0].length - 1;
  const out = [];
  const clampRow = function (i) { return grid[Math.max(0, Math.min(nr, i))]; };
  for (let r = 0; r <= nr * factor; r++) {
    const ri = Math.min(Math.floor(r / factor), nr - 1), rf = r / factor - ri;
    const line = [];
    for (let c = 0; c <= nc * factor; c++) {
      const ci = Math.min(Math.floor(c / factor), nc - 1), cf = c / factor - ci;
      const cols = [-1, 0, 1, 2].map(function (dr) {
        const row = clampRow(ri + dr);
        const at = function (i) { return row[Math.max(0, Math.min(nc, i))]; };
        return cubicAt(at(ci - 1), at(ci), at(ci + 1), at(ci + 2), cf);
      });
      line.push(cubicAt(cols[0], cols[1], cols[2], cols[3], rf));
    }
    out.push(line);
  }
  return out;
}
function drawDiff(p, layer, source) {
  const grid = resample(source, 3);
  const nr = grid.length - 1, nc = grid[0].length - 1;
  const base = make('rect', {x: p.x0, y: p.y0, width: p.x1 - p.x0, height: p.y1 - p.y0, fill: diffColors[0]}, layer);
  
  
  diffThresholds.forEach(function (level, li) {
    let d = '';
    for (let r = 0; r < nr; r++) {
      for (let c = 0; c < nc; c++) {
        const tL = 3 + 5 * c / nc, tR = 3 + 5 * (c + 1) / nc;
        const hT = 5000 * (1 - r / nr), hB = 5000 * (1 - (r + 1) / nr);
        const poly = clipCell([
          [tL, hT, grid[r][c]], [tR, hT, grid[r][c + 1]],
          [tR, hB, grid[r + 1][c + 1]], [tL, hB, grid[r + 1][c]]
        ], level);
        if (poly.length > 2) d += pathFrom(p, poly) + 'Z';
      }
    }
    const band = make('path', {d: d, fill: diffColors[li + 1]}, layer);
    
    
  });
}

/* ---------- axes ---------- */
function drawAxes(p) {
  const g = make('g', {}, document.getElementById('p-' + p.id));
  
  
  const spine = make('rect', {x: p.x0, y: p.y0, width: p.x1 - p.x0, height: p.y1 - p.y0, fill: 'none', stroke: '#000', 'stroke-width': 3.4}, g);
  
  
  hourTicks.forEach(function (t, i) {
    const x = xOf(p, t);
    const tick = make('line', {x1: x, x2: x, y1: p.y1, y2: p.y1 + 15, stroke: '#000', 'stroke-width': 3.2}, g);
    
    
    const lab = make('text', {class: 'tk', x: x, y: p.y1 + 60, 'text-anchor': 'middle'}, g);
    
    
    lab.textContent = hourLabels[i];
  });
  heightTicks.forEach(function (h) {
    const y = yOf(p, h);
    const tick = make('line', {x1: p.x0 - 15, x2: p.x0, y1: y, y2: y, stroke: '#000', 'stroke-width': 3.2}, g);
    
    
    if (p.labelled) {
      const lab = make('text', {class: 'tk', x: 161, y: y + 15, 'text-anchor': 'end'}, g);
      
      
      lab.textContent = String(h);
    }
  });
}

/* ---------- colour bars ---------- */
function drawColorbar(parent, top, bottom, vmin, vmax, edges, colors, ticks, labels, labelBase) {
  const tipL = 194, bodyL = 245.6, bodyR = 1303, tipR = 1355.5;
  const mid = (top + bottom) / 2;
  const sx = function (v) { return bodyL + (v - vmin) / (vmax - vmin) * (bodyR - bodyL); };
  const lo = make('path', {d: 'M' + bodyL + ' ' + top + 'L' + tipL + ' ' + mid + 'L' + bodyL + ' ' + bottom + 'Z', fill: colors[0]}, parent);
  
  
  edges.slice(0, -1).forEach(function (e, i) {
    const x = sx(e), w = sx(edges[i + 1]) - x;
    const seg = make('rect', {x: x, y: top, width: w + 0.4, height: bottom - top, fill: colors[i + 1]}, parent);
    
    
  });
  const hi = make('path', {d: 'M' + bodyR + ' ' + top + 'L' + tipR + ' ' + mid + 'L' + bodyR + ' ' + bottom + 'Z', fill: colors[colors.length - 1]}, parent);
  
  
  const box = make('path', {d: 'M' + bodyL + ' ' + top + 'L' + bodyR + ' ' + top + 'L' + tipR + ' ' + mid + 'L' + bodyR + ' ' + bottom + 'L' + bodyL + ' ' + bottom + 'L' + tipL + ' ' + mid + 'Z', fill: 'none', stroke: '#000', 'stroke-width': 3.6}, parent);
  
  
  ticks.forEach(function (v, i) {
    const x = sx(v);
    const tick = make('line', {x1: x, x2: x, y1: bottom, y2: bottom + 15, stroke: '#000', 'stroke-width': 3}, parent);
    
    
    const lab = make('text', {class: 'tk', x: x, y: labelBase, 'text-anchor': 'middle'}, parent);
    
    
    lab.textContent = labels[i];
  });
}

/* ---------- assemble ---------- */
const layerA = plotLayer(pA);
drawIsotherms(pA, layerA, isoObs, []);
drawFreezing(pA, layerA, freezeObsTimes.map(function (t, i) { return [t, freezeObsHeights[i]]; }));
drawAxes(pA);
const layerB = plotLayer(pB);
drawIsotherms(pB, layerB, isoObs, []);
drawFreezing(pB, layerB, freezeObsTimes.map(function (t, i) { return [t, freezeObsHeights[i]]; }));
drawAxes(pB);

[[pC, isoC, pocketsC, purpleC, tealC], [pD, isoD, pocketsD, purpleD, tealD], [pE, isoE, pocketsE, purpleE, tealE], [pF, isoF, pocketsF, purpleF, tealF]].forEach(function (cfg) {
  const p = cfg[0];
  const layer = plotLayer(p);
  drawIsotherms(p, layer, cfg[1], cfg[2]);
  drawFreezing(p, layer, cfg[1][freezeLevelRow].map(function (h, j) { return [isoTimes[j], h]; }));
  drawFreezing(p, layer, [[3, groundContour[0]], [8, groundContour[1]]]);
  drawCloud(p, layer, cfg[3], cfg[4]);
  drawAxes(p);
});

const layerG = plotLayer(pG);
drawDiff(pG, layerG, diffG);
drawAxes(pG);
const layerH = plotLayer(pH);
drawDiff(pH, layerH, diffH);
drawAxes(pH);

drawColorbar(document.getElementById('cb-t'), 1697.5, 1727.5, -24, 4, tempLevels, tempColors, tempTicks, tempTickLabels, 1788);
drawColorbar(document.getElementById('cb-d'), 2537.5, 2567.5, -1, 1, diffThresholds.map(function (v) { return v / 10; }), diffColors, deltaTicks, deltaTickLabels, 2627);
</script>
</body>
</html>
